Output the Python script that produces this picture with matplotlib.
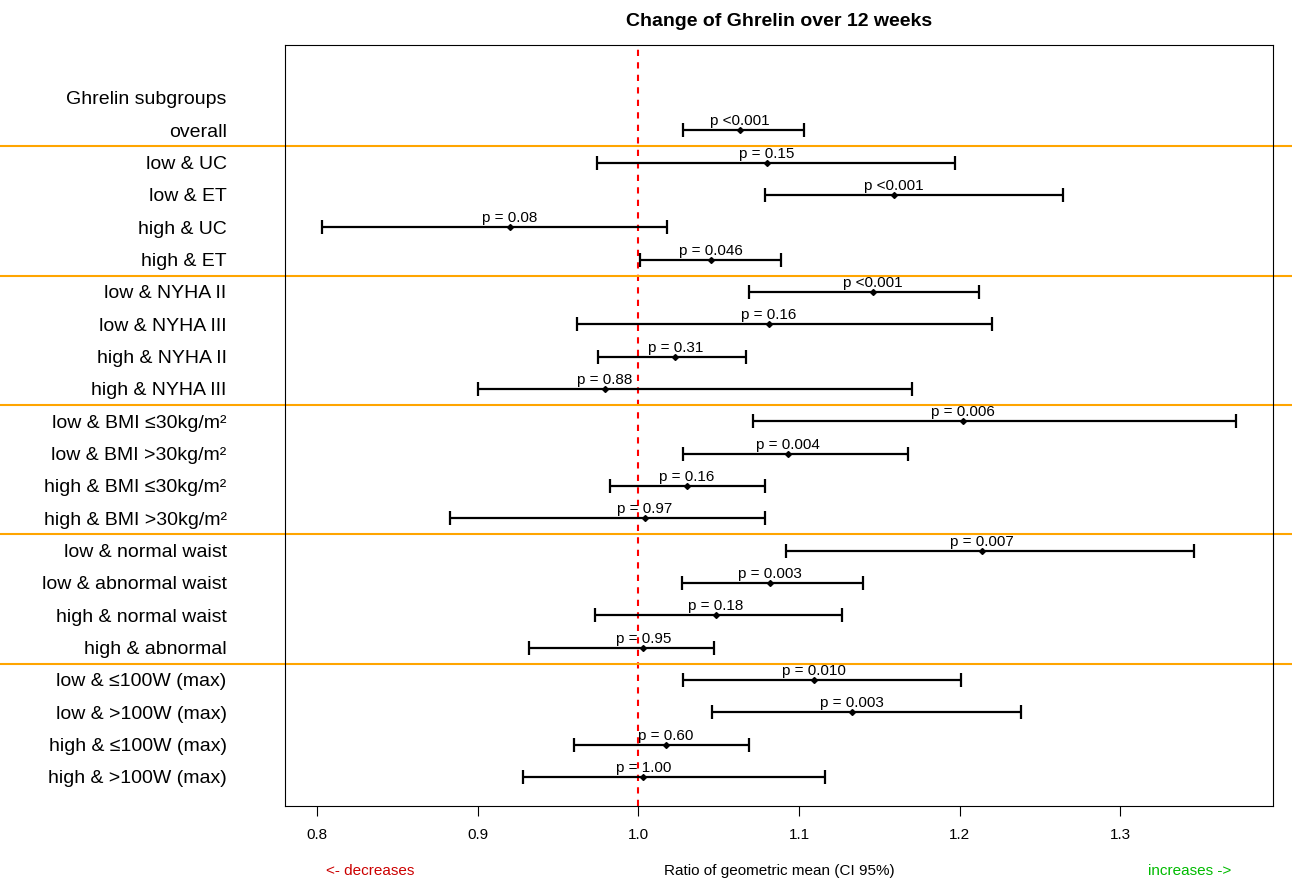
# -*- coding: utf-8 -*-
import matplotlib
matplotlib.use('Agg')
import matplotlib.pyplot as plt
import matplotlib.transforms as mtransforms

#------------------------------------------------------------#
# data                                                       #
#------------------------------------------------------------#

labels = ['overall',
          'low & UC', 'low & ET', 'high & UC', 'high & ET',
          'low & NYHA II', 'low & NYHA III', 'high & NYHA II', 'high & NYHA III',
          'low & BMI \u226430kg/m\u00b2', 'low & BMI >30kg/m\u00b2',
          'high & BMI \u226430kg/m\u00b2', 'high & BMI >30kg/m\u00b2',
          'low & normal waist', 'low & abnormal waist',
          'high & normal waist', 'high & abnormal',
          'low & \u2264100W (max)', 'low & >100W (max)',
          'high & \u2264100W (max)', 'high & >100W (max)']

ratio = [1.063,
         1.080, 1.159, 0.920, 1.045,
         1.146, 1.081, 1.023, 0.979,
         1.202, 1.093, 1.030, 1.004,
         1.214, 1.082, 1.048, 1.003,
         1.109, 1.133, 1.017, 1.003]

ci_low = [1.028,
          0.974, 1.079, 0.803, 1.001,
          1.069, 0.962, 0.975, 0.900,
          1.071, 1.028, 0.982, 0.883,
          1.092, 1.027, 0.973, 0.932,
          1.028, 1.046, 0.960, 0.928]

ci_high = [1.103,
           1.197, 1.264, 1.018, 1.089,
           1.212, 1.220, 1.067, 1.170,
           1.372, 1.168, 1.079, 1.079,
           1.346, 1.140, 1.127, 1.047,
           1.201, 1.238, 1.069, 1.116]

pvals = ['p <0.001',
         'p = 0.15', 'p <0.001', 'p = 0.08', 'p = 0.046',
         'p <0.001', 'p = 0.16', 'p = 0.31', 'p = 0.88',
         'p = 0.006', 'p = 0.004', 'p = 0.16', 'p = 0.97',
         'p = 0.007', 'p = 0.003', 'p = 0.18', 'p = 0.95',
         'p = 0.010', 'p = 0.003', 'p = 0.60', 'p = 1.00']

group_breaks = [1.5, 5.5, 9.5, 13.5, 17.5]
xticks = [0.8, 0.9, 1.0, 1.1, 1.2, 1.3]

#------------------------------------------------------------#
# plot                                                       #
#------------------------------------------------------------#

plt.rcParams['font.family'] = ['Liberation Sans', 'DejaVu Sans']

fig = plt.figure(figsize=(12.92, 8.8), dpi=100)
ax = fig.add_axes([0.2206, 0.0841, 0.7647, 0.8648])

ypos = [-(i + 1) for i in range(len(labels))]

ax.axvline(1.0, color='red', linestyle=(0, (3, 3)), linewidth=1.5, zorder=1)

for y, r, lo, hi, p in zip(ypos, ratio, ci_low, ci_high, pvals):
    ax.errorbar(r, y, xerr=[[r - lo], [hi - r]], fmt='D', color='black',
                markersize=3, elinewidth=1.6, capsize=5, capthick=1.6, zorder=3)
    ax.text(r, y + 0.06, p, ha='center', va='bottom', fontsize=11)

# orange separators over the full width
trans = mtransforms.blended_transform_factory(fig.transFigure, ax.transData)
for b in group_breaks:
    ax.plot([0, 1], [-b, -b], color='orange', linewidth=1.5,
            transform=trans, clip_on=False, zorder=2)

ax.set_xlim(0.780, 1.395)
ax.set_ylim(-21.9, 1.64)

ax.set_yticks([0] + ypos)
ax.set_yticklabels(['Ghrelin subgroups'] + labels, fontsize=14)
ax.tick_params(axis='y', length=0, pad=42)

ax.set_xticks(xticks)
ax.set_xticklabels([f'{t:.1f}' for t in xticks], fontsize=11)
ax.tick_params(axis='x', length=7, pad=9, width=0.8)

for s in ax.spines.values():
    s.set_linewidth(0.8)

ax.set_title('Change of Ghrelin over 12 weeks', fontsize=14, fontweight='bold', pad=14)

fig.text(779 / 1292, 1 - 871 / 880, 'Ratio of geometric mean (CI 95%)',
         ha='center', va='center', fontsize=11)
fig.text(370 / 1292, 1 - 871 / 880, '<- decreases', ha='center', va='center',
         fontsize=11, color='#cc0000')
fig.text(1190 / 1292, 1 - 871 / 880, 'increases ->', ha='center', va='center',
         fontsize=11, color='#00bb00')

fig.savefig('out.png', dpi=100)
